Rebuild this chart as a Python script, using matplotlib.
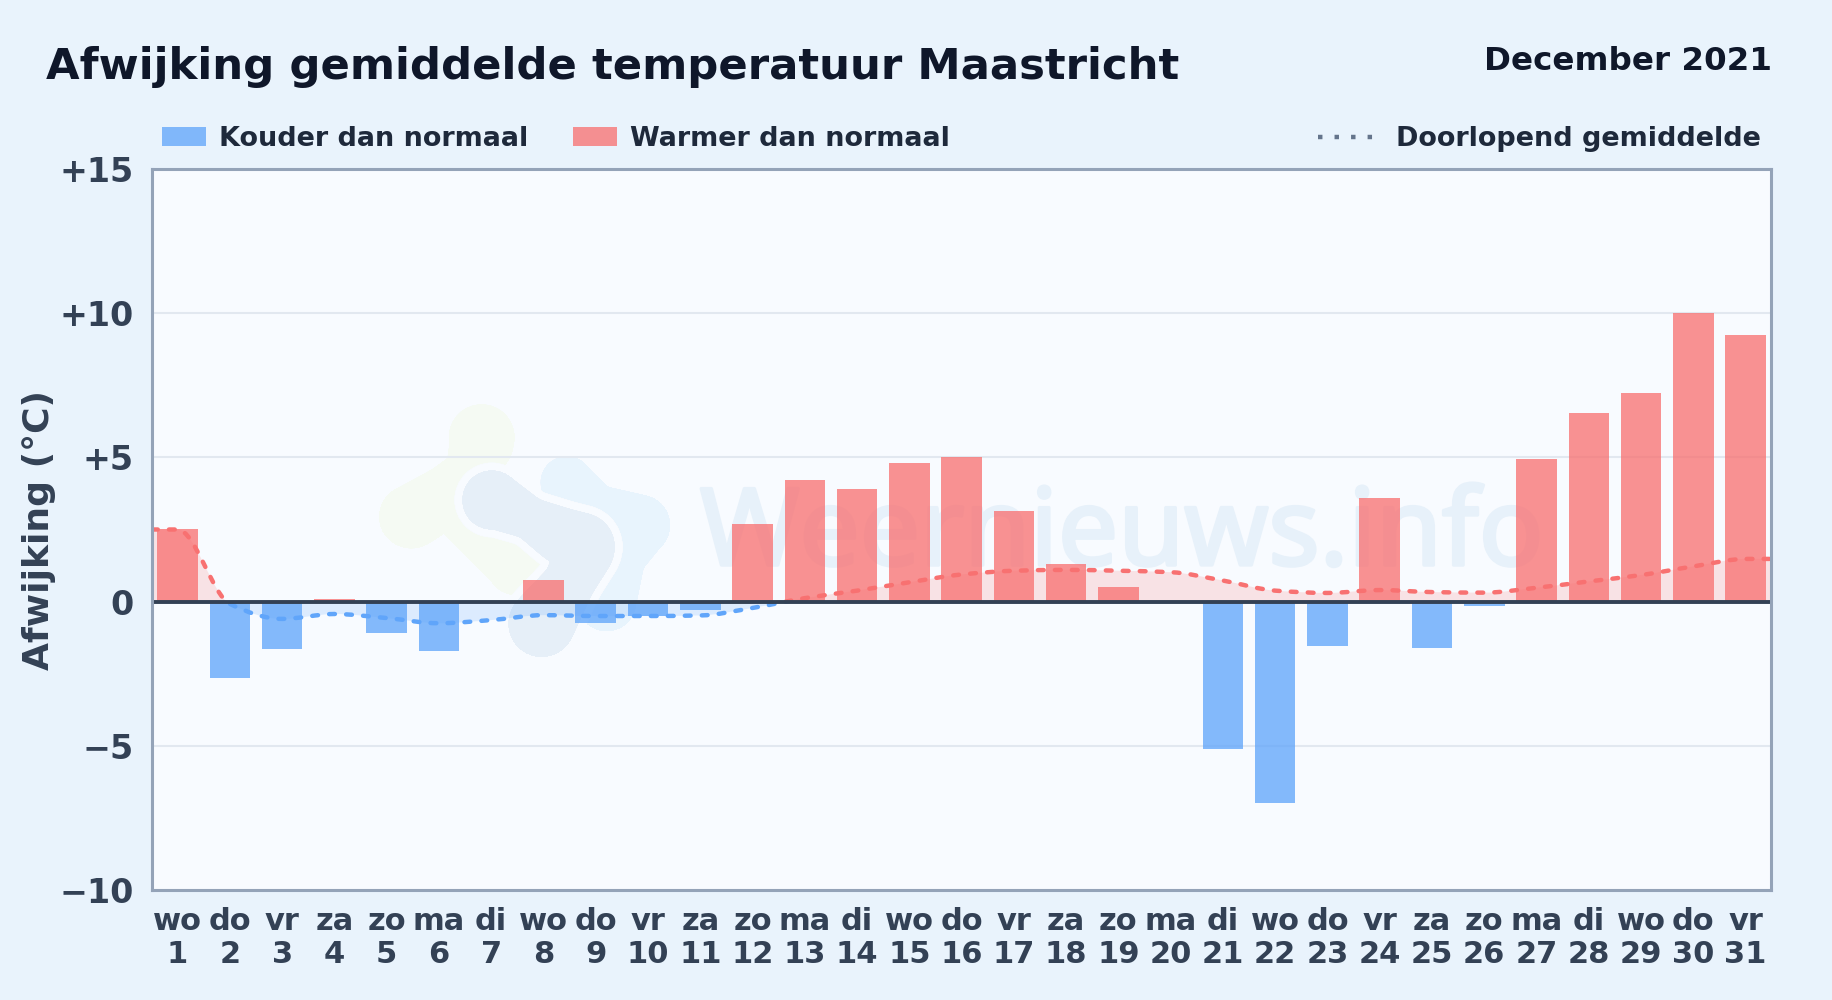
import matplotlib
matplotlib.use("Agg")
import matplotlib.patheffects as pe
import matplotlib.pyplot as plt
import numpy as np
from matplotlib.lines import Line2D
from matplotlib.patches import PathPatch, Rectangle
from matplotlib.path import Path
from matplotlib.transforms import Affine2D

W, H = 1832, 1000
BG = "#e9f3fc"
PLOT_BG = "#f8fbff"
BLUE = "#60a5fa"
RED = "#f87171"

WEEKDAYS = ["wo", "do", "vr", "za", "zo", "ma", "di", "wo", "do", "vr", "za", "zo", "ma", "di", "wo", "do",
            "vr", "za", "zo", "ma", "di", "wo", "do", "vr", "za", "zo", "ma", "di", "wo", "do", "vr"]
DAYS = list(range(1, 32))
DEVIATION = [2.5, -2.65, -1.65, 0.1, -1.1, -1.7, 0.0, 0.75, -0.75, -0.5, -0.3, 2.7, 4.2, 3.9, 4.8, 5.0,
             3.15, 1.3, 0.5, 0.0, -5.1, -7.0, -1.55, 3.6, -1.6, -0.15, 4.95, 6.55, 7.25, 10.0, 9.25]
RUNNING_MEAN = [2.5, -0.08, -0.6, -0.43, -0.57, -0.75, -0.64, -0.47, -0.5, -0.5, -0.48, -0.22, 0.12, 0.38,
                0.67, 0.94, 1.07, 1.1, 1.07, 1.02, 0.73, 0.38, 0.3, 0.4, 0.33, 0.31, 0.48, 0.7, 0.92, 1.22, 1.48]
Y_TICKS = [-10, -5, 0, 5, 10, 15]
Y_LABELS = ["\u221210", "\u22125", "0", "+5", "+10", "+15"]

# watermark logo, blobs as chains of (x, y, radius) in 1/3 pixels from the corner (360, 395)
GREEN_TOP = [(365, 125, 98), (365, 145, 95), (330, 230, 72), (265, 300, 90), (155, 365, 95), (150, 365, 92)]
GREEN_LOW = [(265, 300, 90), (350, 400, 80), (470, 505, 92), (470, 510, 90)]
SKY_TOP = [(620, 262, 78), (625, 265, 75), (710, 335, 65), (840, 390, 90), (840, 392, 88)]
SKY_LOW = [(840, 392, 88), (790, 490, 65), (740, 620, 88), (740, 622, 85)]
CORE = [(395, 315, 88), (400, 315, 85), (510, 370, 62), (610, 425, 85), (680, 450, 92), (630, 560, 75),
        (545, 685, 100), (545, 690, 95)]
LOGO = [("#f5faf3", GREEN_TOP, 0), ("#f5faf3", GREEN_LOW, 0), ("#e8f4fd", SKY_TOP, 0), ("#e8f4fd", SKY_LOW, 0),
        (PLOT_BG, CORE, 24), ("#e6eff8", CORE, 0)]

plt.rcParams["font.family"] = "DejaVu Sans"
plt.rcParams["font.weight"] = "bold"


def smooth_path(x, y):
    # monotone cubic through the values, like the curve of the original line
    x, y = np.asarray(x, float), np.asarray(y, float)
    slope = np.diff(y) / np.diff(x)
    tan = np.zeros(len(x))
    for i in range(1, len(x) - 1):
        if slope[i - 1] * slope[i] > 0:
            tan[i] = 2 * slope[i - 1] * slope[i] / (slope[i - 1] + slope[i])
    verts = [(x[0], y[0])]
    codes = [Path.MOVETO]
    for i in range(len(x) - 1):
        h = (x[i + 1] - x[i]) / 3
        verts += [(x[i] + h, y[i] + h * tan[i]), (x[i + 1] - h, y[i + 1] - h * tan[i + 1]), (x[i + 1], y[i + 1])]
        codes += [Path.CURVE4] * 3
    return verts, codes


def draw_blob(ax, chain, color, grow, transform):
    # circles along the chain, averaged a little so the outline has no corners
    cx, cy, r = np.array(chain, float).T
    t = np.linspace(0, len(cx) - 1, 60 * len(cx))
    idx = np.arange(len(cx))
    kernel = np.ones(31) / 31
    xs, ys, rs = [np.convolve(np.pad(np.interp(t, idx, v), 15, mode="edge"), kernel, "valid") for v in (cx, cy, r)]
    ax.scatter(360 + xs / 3, 395 + ys / 3, s=(2 * (rs + grow) / 3 * 0.72) ** 2, color=color, linewidths=0,
               transform=transform, zorder=0.5)


fig = plt.figure(figsize=(W / 100, H / 100), dpi=100, facecolor=BG)
ax = fig.add_axes([152 / W, 1 - 890 / H, (1770.5 - 152) / W, (890 - 169) / H], facecolor=PLOT_BG)
px = Affine2D().scale(1, -1).translate(0, H)

# watermark
for color, chain, grow in LOGO:
    draw_blob(ax, chain, color, grow, px)
ax.text(700, 565, "Weernieuws.info", family="Noto Sans", weight="normal", fontsize=77, color="#e7f1fa",
        zorder=0.6, transform=px, path_effects=[pe.withStroke(linewidth=2.5, foreground="#e7f1fa")])

ax.set_xlim(0.51, 31.476)
ax.set_ylim(-10, 15)
ax.set_axisbelow(True)
ax.grid(axis="y", color="#e2e8f0", lw=1.5, zorder=1)

colors = [BLUE if v < 0 else RED for v in DEVIATION]
ax.bar(DAYS, DEVIATION, width=0.775, color=colors, alpha=0.77, zorder=2)

# running mean: one curve, blue below zero and red above
xs = [ax.get_xlim()[0]] + DAYS + [ax.get_xlim()[1]]
ys = [RUNNING_MEAN[0]] + RUNNING_MEAN + [RUNNING_MEAN[-1]]
verts, codes = smooth_path(xs, ys)
closed = verts + [(xs[-1], 0), (xs[0], 0), (xs[0], 0)]
closed_codes = codes + [Path.LINETO, Path.LINETO, Path.CLOSEPOLY]
for color, y0, height in [(RED, 0, 15), (BLUE, -10, 10)]:
    clip = Rectangle((xs[0], y0), xs[-1] - xs[0], height, transform=ax.transData)
    fill = PathPatch(Path(closed, closed_codes), facecolor=color, edgecolor="none", alpha=0.18, zorder=2.5)
    ax.add_patch(fill)
    fill.set_clip_path(clip)
    line = PathPatch(Path(verts, codes), fill=False, edgecolor=color, lw=3.2, capstyle="round",
                     linestyle=(0, (1.3, 2.52)), zorder=3)
    ax.add_patch(line)
    line.set_clip_path(clip)

ax.axhline(0, color="#334155", lw=2.8, zorder=4)

for side in ax.spines.values():
    side.set_color("#94a3b8")
    side.set_linewidth(2.2)
    side.set_zorder(5)

ax.set_yticks(Y_TICKS, Y_LABELS)
ax.set_xticks(DAYS, [f"{d}\n{n}" for d, n in zip(WEEKDAYS, DAYS)], linespacing=1.17)
ax.tick_params(axis="both", length=0, colors="#334155")
ax.tick_params(axis="y", labelsize=24, pad=13)
ax.tick_params(axis="x", labelsize=22, pad=12.3)
ax.set_ylabel("Afwijking (\u00b0C)", fontsize=26, color="#334155", fontweight="bold")
ax.yaxis.set_label_coords(56 / W, 0.47, transform=fig.transFigure)


def label(x, y, text, **kw):
    fig.text(x / W, 1 - y / H, text, va="baseline", **kw)


label(46, 79.5, "Afwijking gemiddelde temperatuur Maastricht", fontsize=31.25, color="#0f172a")
label(1772, 70, "December 2021", fontsize=23.4, color="#0f172a", ha="right")

# legend above the plot
for x0, color, text, tx in [(162, BLUE, "Kouder dan normaal", 219), (573, RED, "Warmer dan normaal", 630)]:
    fig.add_artist(Rectangle((x0 / W, 1 - 146 / H), 44 / W, 19 / H, transform=fig.transFigure, facecolor=color,
                             alpha=0.77, edgecolor="none"))
    label(tx, 145.5, text, fontsize=19.45, color="#1e293b")
fig.add_artist(Line2D([1318 / W, 1373 / W], [1 - 137 / H] * 2, transform=fig.transFigure, color="#64748b", lw=3.2,
                      linestyle=(0, (1.0, 2.72)), dash_capstyle="butt"))
label(1395.5, 145.5, "Doorlopend gemiddelde", fontsize=19.45, color="#1e293b")

fig.savefig("out.png", dpi=100, facecolor=BG)
